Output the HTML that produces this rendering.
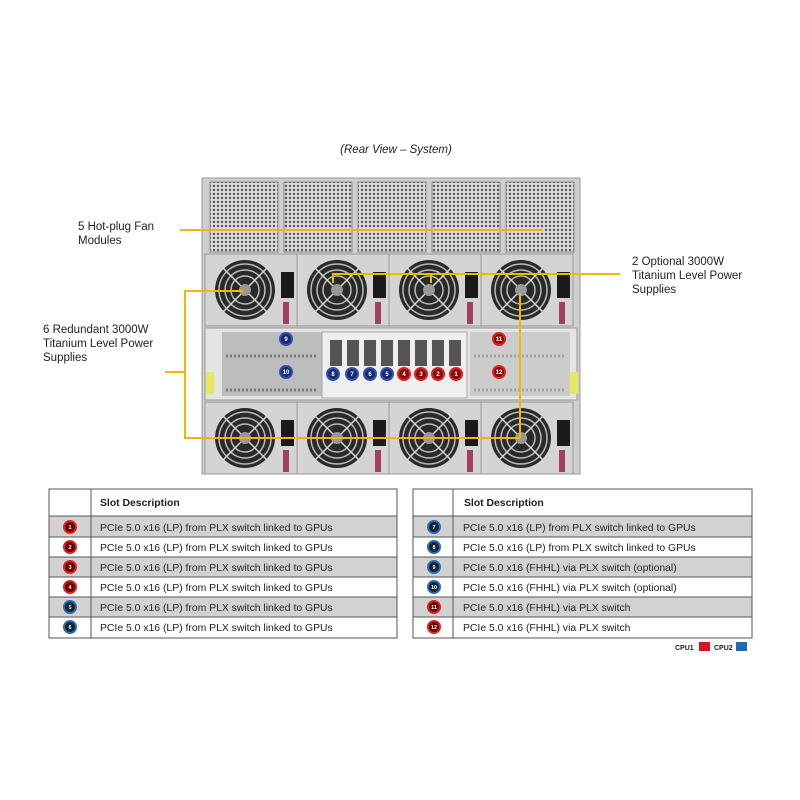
<!DOCTYPE html>
<html><head><meta charset="utf-8"><style>
body{margin:0;background:#fff;width:800px;height:800px;overflow:hidden;font-family:"Liberation Sans",sans-serif}
svg{position:absolute;left:0;top:0}
</style></head><body>
<svg width="800" height="800" viewBox="0 0 800 800" font-family="Liberation Sans, sans-serif">
<defs>
<pattern id="mesh" width="4" height="4" patternUnits="userSpaceOnUse"><rect width="4" height="4" fill="#dcdcdc"/><circle cx="2" cy="2" r="1.2" fill="#555"/></pattern>
<g id="fan"><circle r="30" fill="#2a2a2a"/><circle r="26" fill="none" stroke="#bbb" stroke-width="1.5"/><circle r="20" fill="none" stroke="#bbb" stroke-width="1.5"/><circle r="14" fill="none" stroke="#bbb" stroke-width="1.5"/><line x1="-22" y1="-22" x2="22" y2="22" stroke="#ddd" stroke-width="1.5"/><line x1="22" y1="-22" x2="-22" y2="22" stroke="#ddd" stroke-width="1.5"/><circle r="6" fill="#999"/></g>
<g id="psu"><rect width="92" height="72" fill="#d4d4d4" stroke="#999"/><use href="#fan" x="40" y="36"/><rect x="76" y="18" width="13" height="26" fill="#1a1a1a"/><rect x="78" y="48" width="6" height="22" fill="#a04060"/></g>
</defs>
<text x="396" y="153" font-size="11.5" font-style="italic" text-anchor="middle" fill="#222">(Rear View – System)</text>
<rect x="202" y="178" width="378" height="296" fill="#cfcfcf" stroke="#999"/>
<g>
<rect x="210" y="182" width="68" height="70" fill="url(#mesh)" stroke="#888"/>
<rect x="284" y="182" width="68" height="70" fill="url(#mesh)" stroke="#888"/>
<rect x="358" y="182" width="68" height="70" fill="url(#mesh)" stroke="#888"/>
<rect x="432" y="182" width="68" height="70" fill="url(#mesh)" stroke="#888"/>
<rect x="506" y="182" width="68" height="70" fill="url(#mesh)" stroke="#888"/>
</g>
<use href="#psu" x="205" y="254"/><use href="#psu" x="297" y="254"/><use href="#psu" x="389" y="254"/><use href="#psu" x="481" y="254"/>
<use href="#psu" x="205" y="402"/><use href="#psu" x="297" y="402"/><use href="#psu" x="389" y="402"/><use href="#psu" x="481" y="402"/>
<rect x="205" y="328" width="372" height="72" fill="#e4e4e4" stroke="#999"/>
<rect x="222" y="332" width="100" height="64" fill="#bdbdbd"/>
<g stroke="#777" stroke-width="3" stroke-dasharray="2 2"><line x1="226" y1="356" x2="318" y2="356"/><line x1="226" y1="390" x2="318" y2="390"/><line x1="474" y1="356" x2="566" y2="356"/><line x1="474" y1="390" x2="566" y2="390"/></g>
<rect x="322" y="332" width="145" height="66" fill="#efefef" stroke="#aaa"/>
<rect x="470" y="332" width="100" height="64" fill="#bdbdbd" fill-opacity="0.6"/>
<rect x="206" y="372" width="8" height="22" fill="#e8e860"/><rect x="570" y="372" width="8" height="22" fill="#e8e860"/>
<g fill="#555"><rect x="330" y="340" width="12" height="26"/><rect x="347" y="340" width="12" height="26"/><rect x="364" y="340" width="12" height="26"/><rect x="381" y="340" width="12" height="26"/><rect x="398" y="340" width="12" height="26"/><rect x="415" y="340" width="12" height="26"/><rect x="432" y="340" width="12" height="26"/><rect x="449" y="340" width="12" height="26"/></g>
<g font-size="6" font-weight="bold" fill="#fff" text-anchor="middle">
<g stroke-width="2"><circle cx="286" cy="339" r="6" fill="#1c2a6a" stroke="#3050b0"/><circle cx="286" cy="372" r="6" fill="#1c2a6a" stroke="#3050b0"/>
<circle cx="333" cy="374" r="6" fill="#1c2a6a" stroke="#3050b0"/><circle cx="352" cy="374" r="6" fill="#1c2a6a" stroke="#3050b0"/><circle cx="370" cy="374" r="6" fill="#1c2a6a" stroke="#3050b0"/><circle cx="387" cy="374" r="6" fill="#1c2a6a" stroke="#3050b0"/>
<circle cx="404" cy="374" r="6" fill="#801010" stroke="#e02020"/><circle cx="421" cy="374" r="6" fill="#801010" stroke="#e02020"/><circle cx="438" cy="374" r="6" fill="#801010" stroke="#e02020"/><circle cx="456" cy="374" r="6" fill="#801010" stroke="#e02020"/>
<circle cx="499" cy="339" r="6" fill="#801010" stroke="#e02020"/><circle cx="499" cy="372" r="6" fill="#801010" stroke="#e02020"/></g>
<text x="286" y="341">9</text><text x="286" y="374">10</text><text x="333" y="376">8</text><text x="352" y="376">7</text><text x="370" y="376">6</text><text x="387" y="376">5</text><text x="404" y="376">4</text><text x="421" y="376">3</text><text x="438" y="376">2</text><text x="456" y="376">1</text><text x="499" y="341">11</text><text x="499" y="374">12</text>
</g>
<g stroke="#f0b800" stroke-width="2" fill="none">
<polyline points="180,230 543,230"/>
<polyline points="333,283 333,274 620,274"/><line x1="431" y1="274" x2="431" y2="283"/>
<polyline points="244,291 185,291 185,438 520,438"/><line x1="520" y1="293" x2="520" y2="438"/>
<line x1="165" y1="372" x2="185" y2="372"/>
</g>
<g font-size="11.5" fill="#222">
<text x="78" y="230">5 Hot-plug Fan</text><text x="78" y="244">Modules</text>
<text x="632" y="265">2 Optional 3000W</text><text x="632" y="279">Titanium Level Power</text><text x="632" y="293">Supplies</text>
<text x="43" y="333">6 Redundant 3000W</text><text x="43" y="347">Titanium Level Power</text><text x="43" y="361">Supplies</text>
</g>
<g font-size="10.4" fill="#222" stroke="none">
<g fill="#d2d2d2"><rect x="49" y="516" width="348" height="21"/><rect x="49" y="557" width="348" height="20"/><rect x="49" y="597" width="348" height="20"/>
<rect x="413" y="516" width="339" height="21"/><rect x="413" y="557" width="339" height="20"/><rect x="413" y="597" width="339" height="20"/></g>
<g stroke="#555" fill="none" stroke-width="1">
<rect x="49" y="489" width="348" height="149"/><line x1="91" y1="489" x2="91" y2="638"/>
<rect x="413" y="489" width="339" height="149"/><line x1="453" y1="489" x2="453" y2="638"/>
<path d="M49 516H397M49 537H397M49 557H397M49 577H397M49 597H397M49 617H397M413 516H752M413 537H752M413 557H752M413 577H752M413 597H752M413 617H752"/>
</g>
<text x="100" y="506" font-weight="bold">Slot Description</text><text x="464" y="506" font-weight="bold">Slot Description</text>
<g stroke-width="2">
<circle cx="70" cy="527" r="6" fill="#600" stroke="#d22"/><circle cx="70" cy="547" r="6" fill="#600" stroke="#d22"/><circle cx="70" cy="567" r="6" fill="#600" stroke="#d22"/><circle cx="70" cy="587" r="6" fill="#600" stroke="#d22"/><circle cx="70" cy="607" r="6" fill="#123" stroke="#2a6ab0"/><circle cx="70" cy="627" r="6" fill="#123" stroke="#2a6ab0"/>
<circle cx="434" cy="527" r="6" fill="#123" stroke="#2a6ab0"/><circle cx="434" cy="547" r="6" fill="#123" stroke="#2a6ab0"/><circle cx="434" cy="567" r="6" fill="#123" stroke="#2a6ab0"/><circle cx="434" cy="587" r="6" fill="#123" stroke="#2a6ab0"/><circle cx="434" cy="607" r="6" fill="#600" stroke="#d22"/><circle cx="434" cy="627" r="6" fill="#600" stroke="#d22"/>
</g>
<g font-size="5.5" fill="#fff" text-anchor="middle" font-weight="bold"><text x="70" y="529">1</text><text x="70" y="549">2</text><text x="70" y="569">3</text><text x="70" y="589">4</text><text x="70" y="609">5</text><text x="70" y="629">6</text><text x="434" y="529">7</text><text x="434" y="549">8</text><text x="434" y="569">9</text><text x="434" y="589">10</text><text x="434" y="609">11</text><text x="434" y="629">12</text></g>
<text x="100" y="531">PCIe 5.0 x16 (LP) from PLX switch linked to GPUs</text><text x="100" y="551">PCIe 5.0 x16 (LP) from PLX switch linked to GPUs</text><text x="100" y="571">PCIe 5.0 x16 (LP) from PLX switch linked to GPUs</text><text x="100" y="591">PCIe 5.0 x16 (LP) from PLX switch linked to GPUs</text><text x="100" y="611">PCIe 5.0 x16 (LP) from PLX switch linked to GPUs</text><text x="100" y="631">PCIe 5.0 x16 (LP) from PLX switch linked to GPUs</text>
<text x="463" y="531">PCIe 5.0 x16 (LP) from PLX switch linked to GPUs</text><text x="463" y="551">PCIe 5.0 x16 (LP) from PLX switch linked to GPUs</text><text x="463" y="571">PCIe 5.0 x16 (FHHL) via PLX switch (optional)</text><text x="463" y="591">PCIe 5.0 x16 (FHHL) via PLX switch (optional)</text><text x="463" y="611">PCIe 5.0 x16 (FHHL) via PLX switch</text><text x="463" y="631">PCIe 5.0 x16 (FHHL) via PLX switch</text>
<text x="675" y="650" font-size="7" font-weight="bold">CPU1</text><rect x="699" y="642" width="11" height="9" fill="#e01020"/>
<text x="714" y="650" font-size="7" font-weight="bold">CPU2</text><rect x="736" y="642" width="11" height="9" fill="#1a6ab8"/>
</g>
</svg>
</body></html>
